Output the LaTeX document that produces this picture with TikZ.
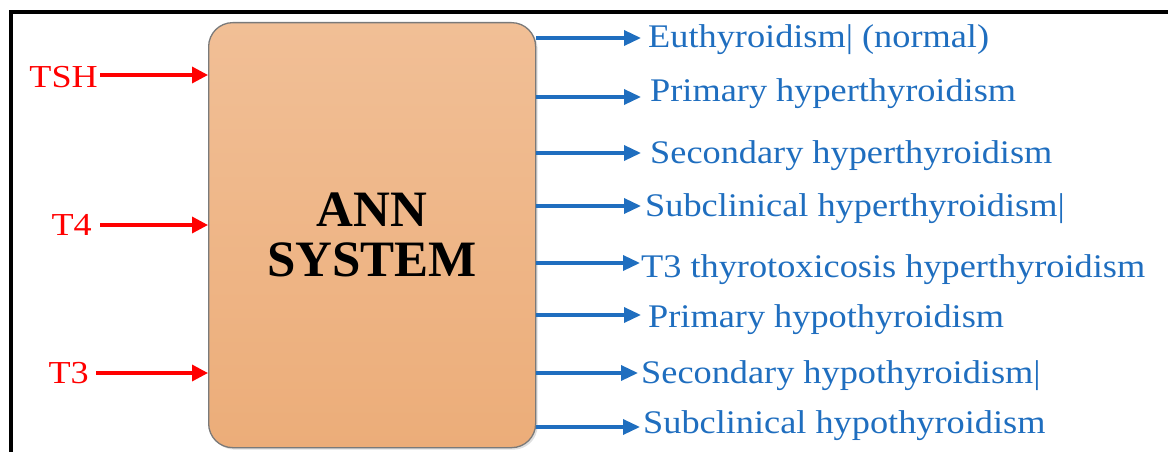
\documentclass[tikz,border=0pt]{standalone}
\usepackage{fontspec}
\setmainfont{Liberation Serif}
\newfontfamily\lblfont[FakeStretch=1.13]{Liberation Serif}
\newfontfamily\outfont[FakeStretch=1.1]{Liberation Serif}
\usetikzlibrary{arrows.meta,shadows}
\definecolor{inred}{HTML}{FF0000}
\definecolor{outblue}{HTML}{1F6EBF}
\definecolor{boxtop}{HTML}{F1BF96}
\definecolor{boxbot}{HTML}{ECAD79}
\definecolor{boxline}{HTML}{7A7A7A}
\begin{document}
\begin{tikzpicture}[x=1pt,y=-1pt,
  frame/.style={line width=4pt,black},
  annbox/.style={draw=boxline,line width=1.3pt,rounded corners=24pt,
    top color=boxtop,bottom color=boxbot,
    minimum width=327pt,minimum height=425pt,
    drop shadow={opacity=0.25,shadow xshift=2pt,shadow yshift=-2pt},
    align=center,font=\fontsize{51}{56}\selectfont\bfseries},
  inlbl/.style={anchor=base east,inner sep=0pt,text=inred,
    font=\lblfont\fontsize{32}{36}\selectfont},
  inarrow/.style={draw=inred,line width=3.4pt,
    -{Triangle[length=16pt,width=16pt]}},
  outlbl/.style={anchor=base west,inner sep=0pt,text=outblue,
    font=\outfont\fontsize{33}{38}\selectfont},
  outarrow/.style={draw=outblue,line width=3.4pt,
    -{Triangle[length=17pt,width=15pt]}}
]
\useasboundingbox (0,0) rectangle (1168,452);
\draw[frame] (11,452) -- (11,12) -- (1168,12);

\node[annbox,anchor=north west] (ann) at (208,22) {ANN\\[-6pt]SYSTEM};

% inputs
\node[inlbl] (tsh) at (98,88) {TSH};
\node[inlbl] (t4) at (92,235) {T4};
\node[inlbl] (t3) at (89,383) {T3};
\coordinate (i1) at (100,75);
\coordinate (i2) at (100,225);
\coordinate (i3) at (96,373);
\draw[inarrow] (i1) -- (ann.west |- i1);
\draw[inarrow] (i2) -- (ann.west |- i2);
\draw[inarrow] (i3) -- (ann.west |- i3);

% outputs
\node[outlbl] (o1) at (648,48) {Euthyroidism| (normal)};
\node[outlbl] (o2) at (650,102) {Primary hyperthyroidism};
\node[outlbl] (o3) at (650,163) {Secondary hyperthyroidism};
\node[outlbl] (o4) at (645,216) {Subclinical hyperthyroidism|};
\node[outlbl] (o5) at (641,277) {T3 thyrotoxicosis hyperthyroidism};
\node[outlbl] (o6) at (648,327) {Primary hypothyroidism};
\node[outlbl] (o7) at (641,383) {Secondary hypothyroidism|};
\node[outlbl] (o8) at (643,433) {Subclinical hypothyroidism};
\coordinate (a1) at (641,38);
\coordinate (a2) at (641,97);
\coordinate (a3) at (641,153);
\coordinate (a4) at (641,206);
\coordinate (a5) at (640,263);
\coordinate (a6) at (641,315);
\coordinate (a7) at (638,373);
\coordinate (a8) at (640,427);
\foreach \a in {a1,a2,a3,a4,a5,a6,a7,a8}{
  \draw[outarrow] (ann.east |- \a) -- (\a);
}
\end{tikzpicture}
\end{document}
